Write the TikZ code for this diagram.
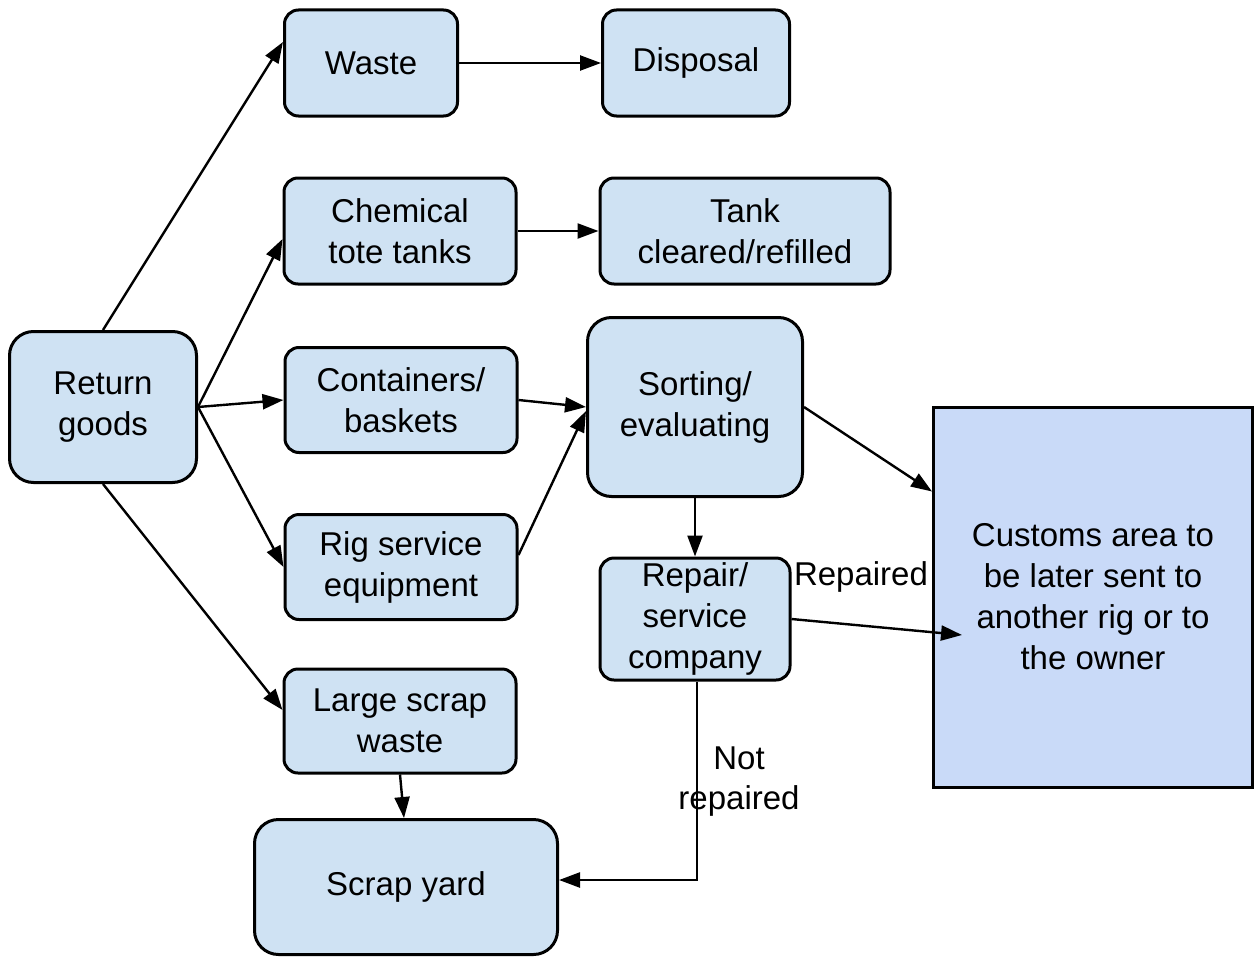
\documentclass[tikz,border=0pt]{standalone}
\usepackage{fontspec}
\setmainfont{Liberation Sans}
\usetikzlibrary{arrows.meta,calc}
\definecolor{boxblue}{HTML}{CFE2F3}
\definecolor{custblue}{HTML}{C9DAF8}

\tikzset{
  box/.style={draw, line width=3pt, fill=boxblue, rounded corners=14pt,
    align=center, inner sep=0pt, font=\fontsize{33}{41}\selectfont},
  bigbox/.style={box, rounded corners=24pt},
  flow/.style={line width=2.4pt, -{Triangle[length=21pt,width=15pt]}},
  lbl/.style={font=\fontsize{33}{40}\selectfont, align=center, inner sep=0pt}
}

\begin{document}
\begin{tikzpicture}[x=1pt,y=-1pt]
\useasboundingbox (0,0) rectangle (1260,958);

% boxes
\node[bigbox, minimum width=187pt, minimum height=151pt] (ret) at (103,407) {Return\\goods};
\node[box, minimum width=173pt, minimum height=106pt] (waste) at (371,63) {Waste};
\node[box, minimum width=187pt, minimum height=106pt] (disp) at (696,63) {Disposal};
\node[box, minimum width=232pt, minimum height=106pt] (chem) at (400,231) {Chemical\\tote tanks};
\node[box, minimum width=290pt, minimum height=106pt] (tank) at (745,231) {Tank\\cleared/refilled};
\node[box, minimum width=232pt, minimum height=105pt] (cont) at (401,400) {Containers/\\baskets};
\node[bigbox, minimum width=215pt, minimum height=179pt] (sort) at (695,407) {Sorting/\\evaluating};
\node[box, minimum width=190pt, minimum height=122pt] (rep) at (695,619) {Repair/\\service\\company};
\node[box, minimum width=232pt, minimum height=105pt] (rig) at (401,567) {Rig service\\equipment};
\node[box, rounded corners=0pt, fill=custblue, minimum width=319pt, minimum height=380pt] (cust) at (1093,597) {Customs area to\\be later sent to\\another rig or to\\the owner};
\node[box, minimum width=232pt, minimum height=104pt] (lsw) at (400,721) {Large scrap\\waste};
\node[bigbox, minimum width=303pt, minimum height=135pt] (yard) at (406,887) {Scrap yard};

% connectors
\draw[flow] (ret.north) -- ([yshift=21pt]waste.west);
\draw[flow] (ret.east) -- ([yshift=-8pt]chem.west);
\draw[flow] (ret.east) -- (cont.west);
\draw[flow] (ret.east) -- (rig.west);
\draw[flow] (ret.south) -- ([yshift=11pt]lsw.west);
\draw[flow] (waste.east) -- (disp.west);
\draw[flow] (chem.east) -- (tank.west);
\draw[flow] (cont.east) -- (sort.west);
\draw[flow] ([yshift=12pt]rig.east) -- ([yshift=-4pt]sort.west);
\draw[flow] (sort.east) -- ([yshift=-86pt]cust.north west);
\draw[flow] (sort.south) -- (rep.north);
\draw[flow] (rep.east) -- ([xshift=30pt,yshift=-38pt]cust.west);
\draw[flow] ([xshift=2pt]rep.south) |- ([yshift=7pt]yard.east);
\draw[flow] (lsw.south) -- ([xshift=-2pt]yard.north);

% edge labels
\node[lbl] (lrep) at (861,577) {Repaired};
\node[lbl] (lnot) at (739,782) {Not\\repaired};
\end{tikzpicture}
\end{document}
